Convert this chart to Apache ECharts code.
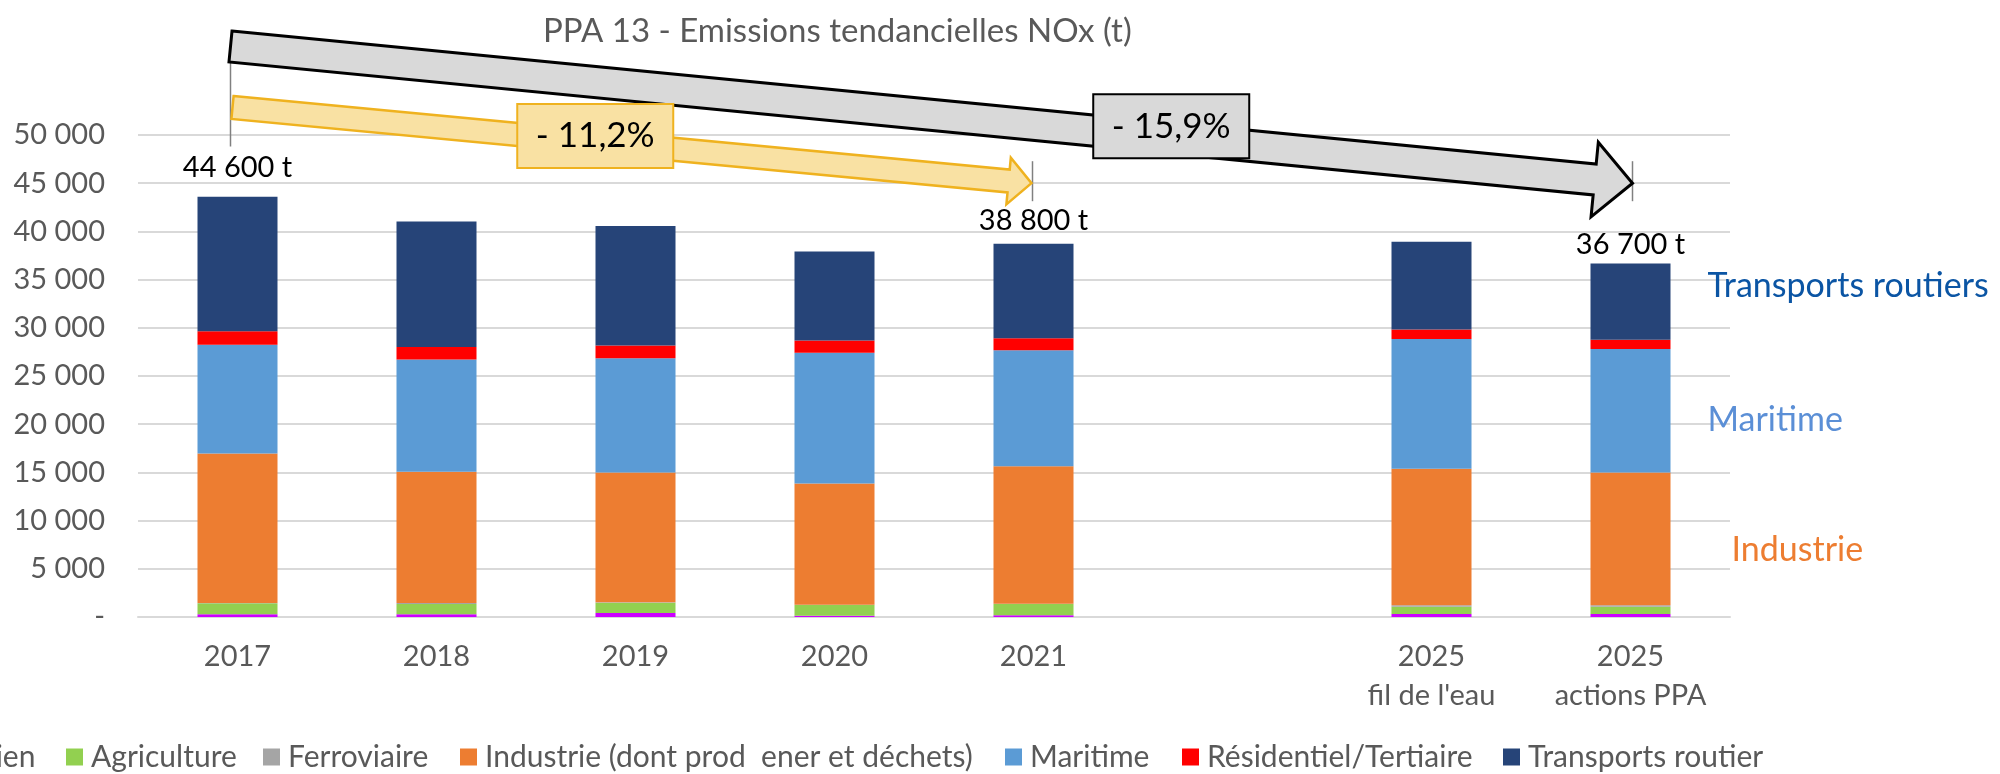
<!DOCTYPE html>
<html>
<head>
<meta charset="utf-8">
<script src="https://cdn.jsdelivr.net/npm/echarts@6/dist/echarts.min.js"></script>
<style>
  html, body { margin: 0; padding: 0; background: #fff; }
  #container { width: 2000px; height: 774px; }
</style>
</head>
<body>
<div id="container"></div>
<script>
var categories = ['2017', '2018', '2019', '2020', '2021', '', '2025\nfil de l\'eau', '2025\nactions PPA'];

// valeurs (t NOx)
var aerien      = [290, 290, 415, 140, 170, null, 311, 311];
var agriculture = [1140, 1070, 1075, 1100, 1170, null, 750, 750];
var ferroviaire = [30, 80, 40, 40, 45, null, 150, 150];
var industrie   = [15500, 13640, 13470, 12570, 14265, null, 14160, 13780];
var maritime    = [11270, 11630, 11840, 13570, 12015, null, 13470, 12810];
var residentiel = [1400, 1290, 1315, 1250, 1245, null, 970, 970];
var transports  = [13960, 13030, 12400, 9250, 9800, null, 9110, 7900];

var seriesNames = ['Aérien', 'Agriculture', 'Ferroviaire', 'Industrie (dont prod  ener et déchets)',
    'Maritime', 'Résidentiel/Tertiaire', 'Transports routier'];
var totalLabels = ['44 600 t', '', '', '', '38 800 t', '', '', '36 700 t'];
var trendLabels = ['- 11,2%', '- 15,9%'];
var sideLabels = ['Transports routiers', 'Maritime', 'Industrie'];
var sideLabelValues = [34300, 20400, 6950];

var colors = ['#cc00ff', '#92d050', '#a5a5a5', '#ed7d31', '#5b9bd5', '#ff0000', '#264478'];
var sideColors = ['#0b55a4', '#5b8fd6', '#ed7d31'];
var FONT = 'Lato';
var GREY = '#595959';

var container = document.getElementById('container');
var chart = echarts.init(container);

function fmt(v) {
    if (v === 0) return '-';
    return String(v).replace(/\B(?=(\d{3})+(?!\d))/g, ' ');
}

var legendX = [-76, 66, 263, 460, 1005, 1182, 1503];
var labelGap = [15, 0, 0, 0, 9, 0, 0, 4];

var allData = [aerien, agriculture, ferroviaire, industrie, maritime, residentiel, transports];
var series = allData.map(function (arr, i) {
    var s = {
        name: seriesNames[i],
        type: 'bar',
        stack: 'total',
        barWidth: 80,
        itemStyle: { color: colors[i] },
        emphasis: { disabled: true },
        data: arr
    };
    if (i === allData.length - 1) {
        s.data = arr.map(function (v, k) {
            if (!totalLabels[k]) return v;
            return {
                value: v,
                label: {
                    show: true, position: 'top', distance: labelGap[k],
                    formatter: totalLabels[k], color: '#000',
                    fontFamily: FONT, fontSize: 29
                }
            };
        });
    }
    return s;
});

var option = {
    animation: false,
    title: {
        text: 'PPA 13 - Emissions tendancielles NOx (t)',
        left: 538, top: 10,
        textStyle: { fontFamily: FONT, fontSize: 33, fontWeight: 'normal', color: GREY }
    },
    legend: seriesNames.map(function (n, i) {
        return {
            data: [n], left: legendX[i], top: 742, padding: 0,
            icon: 'rect', itemWidth: 17, itemHeight: 17,
            selectedMode: false,
            textStyle: { fontFamily: FONT, fontSize: 30, color: GREY, padding: [0, 0, 0, 3] }
        };
    }),
    grid: { left: 138, right: 270, top: 135, bottom: 157, containLabel: false },
    xAxis: {
        type: 'category',
        data: categories,
        axisTick: { show: false },
        axisLine: { lineStyle: { color: '#d9d9d9', width: 2 } },
        axisLabel: { fontFamily: FONT, fontSize: 29, color: GREY, margin: 20, lineHeight: 39, interval: 0 }
    },
    yAxis: {
        type: 'value',
        min: 0, max: 50000, interval: 5000,
        axisLine: { show: false },
        axisTick: { show: false },
        splitLine: { lineStyle: { color: '#d9d9d9', width: 2 } },
        axisLabel: { fontFamily: FONT, fontSize: 29, color: GREY, margin: 33, formatter: fmt }
    },
    series: series
};
chart.setOption(option);

// flèches de tendance, ancrées sur les axes
function px(cat, val) {
    return chart.convertToPixel({ xAxisIndex: 0, yAxisIndex: 0 }, [cat, val]);
}
function arrowPts(p0, p1, half, headHalf, headLen) {
    var dx = p1[0] - p0[0], dy = p1[1] - p0[1], L = Math.hypot(dx, dy);
    var ux = dx / L, uy = dy / L, nx = -uy, ny = ux;
    var bx = p1[0] - ux * headLen, by = p1[1] - uy * headLen;
    function pt(x, y, k) { return [x + nx * k, y + ny * k]; }
    return [pt(p0[0], p0[1], -half), pt(bx, by, -half), pt(bx, by, -headHalf), p1,
        pt(bx, by, headHalf), pt(bx, by, half), pt(p0[0], p0[1], half)];
}
function along(p0, p1, t) {
    return [p0[0] + (p1[0] - p0[0]) * t, p0[1] + (p1[1] - p0[1]) * t];
}

var c0 = px(0, 0), c4 = px(4, 0), c7 = px(7, 0);
var tipVal = 45000;
var greyStart = [c0[0] - 7, px(0, 59180)[1]];
var greyTip = [c7[0] + 2, px(7, tipVal)[1]];
var orStart = [c0[0] - 5, px(0, 52850)[1]];
var orTip = [c4[0] - 2, px(4, tipVal)[1]];

var gBox = along(greyStart, greyTip, 0.671);
var oBox = along(orStart, orTip, 0.454);
var boxW = 156, boxH = 64;

var graphics = [
    { type: 'line', z: 10, shape: { x1: greyStart[0], y1: greyStart[1] + 15, x2: greyStart[0], y2: greyStart[1] + 100 },
      style: { stroke: '#808080', lineWidth: 1.5 } },
    { type: 'line', z: 10, shape: { x1: orTip[0] + 1, y1: orTip[1] - 22, x2: orTip[0] + 1, y2: orTip[1] + 18 },
      style: { stroke: '#808080', lineWidth: 1.5 } },
    { type: 'line', z: 10, shape: { x1: greyTip[0], y1: greyTip[1] - 22, x2: greyTip[0], y2: greyTip[1] + 18 },
      style: { stroke: '#808080', lineWidth: 1.5 } },
    { type: 'polygon', z: 11, shape: { points: arrowPts(greyStart, greyTip, 15.5, 37.5, 38) },
      style: { fill: '#d9d9d9', stroke: '#000', lineWidth: 3, lineJoin: 'miter' } },
    { type: 'polygon', z: 11, shape: { points: arrowPts(orStart, orTip, 11.5, 23.5, 23) },
      style: { fill: '#f9e1a3', stroke: '#efb21f', lineWidth: 2.5, lineJoin: 'miter' } },
    { type: 'rect', z: 12, shape: { x: oBox[0] - boxW / 2, y: oBox[1] - 6 - boxH / 2, width: boxW, height: boxH },
      style: { fill: '#f9e1a3', stroke: '#efb21f', lineWidth: 2 } },
    { type: 'text', z: 13, x: oBox[0], y: oBox[1] - 6,
      style: { text: trendLabels[0], fill: '#000', font: '35px ' + FONT, align: 'center', verticalAlign: 'middle' } },
    { type: 'rect', z: 12, shape: { x: gBox[0] - boxW / 2, y: gBox[1] - 12 - boxH / 2, width: boxW, height: boxH },
      style: { fill: '#d9d9d9', stroke: '#000', lineWidth: 2 } },
    { type: 'text', z: 13, x: gBox[0], y: gBox[1] - 12,
      style: { text: trendLabels[1], fill: '#000', font: '35px ' + FONT, align: 'center', verticalAlign: 'middle' } }
];

var sideX = [c7[0] + 77, c7[0] + 77, c7[0] + 101];
sideLabels.forEach(function (t, i) {
    graphics.push({
        type: 'text', z: 9, x: sideX[i], y: px(7, sideLabelValues[i])[1],
        style: { text: t, fill: sideColors[i], font: '34px ' + FONT, align: 'left', verticalAlign: 'middle' }
    });
});

chart.setOption({ graphic: graphics });
</script>
</body>
</html>
